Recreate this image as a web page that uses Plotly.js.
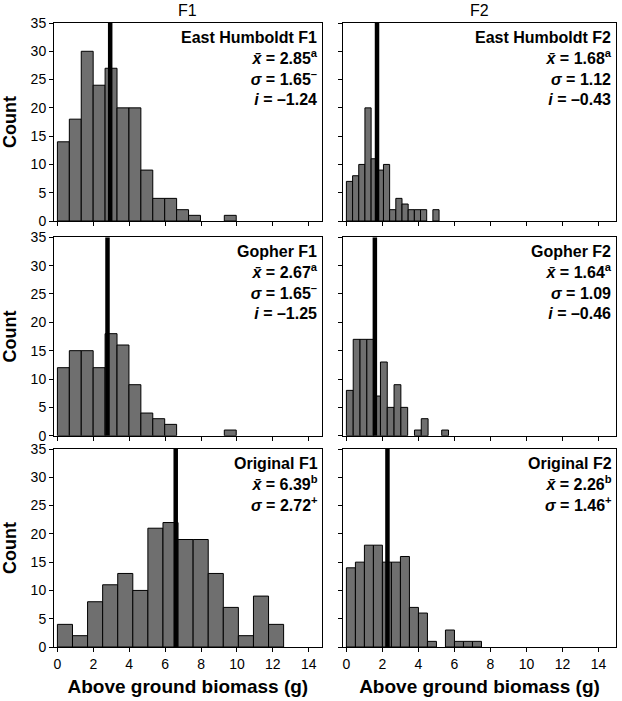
<!DOCTYPE html>
<html>
<head>
<meta charset="utf-8">
<script src="https://cdn.plot.ly/plotly-3.0.1.min.js"></script>
<style>html,body{margin:0;padding:0;background:#fff;}#chart{width:622px;height:701px;}</style>
</head>
<body>
<div id="chart"></div>
<script>
// ---- data ----
const panelNames = ["East Humboldt F1", "East Humboldt F2", "Gopher F1", "Gopher F2", "Original F1", "Original F2"];
const counts_EH_F1 = [14, 18, 30, 24, 27, 20, 20, 9, 4, 4, 2, 1, 0, 0, 1];
const counts_EH_F2 = [7, 8, 10, 20, 11, 9, 10, 2, 4, 3, 2, 2, 2, 0, 2];
const counts_G_F1 = [12, 15, 15, 12, 18, 16, 9, 4, 3, 2, 0, 0, 0, 0, 1];
const counts_G_F2 = [8, 17, 17, 17, 7, 13, 5, 9, 5, 0, 1, 3, 0, 0, 1];
const counts_O_F1 = [4, 2, 8, 11, 13, 10, 21, 22, 19, 19, 13, 7, 2, 9, 4];
const counts_O_F2 = [14, 15, 18, 18, 15, 15, 16, 7, 6, 1, 0, 3, 1, 1, 1];
const binWidths = [0.664, 0.343, 0.664, 0.378, 0.84, 0.5];
const meanLineX = [2.94, 1.70, 2.79, 1.58, 6.59, 2.28];
const meanText = ["2.85", "1.68", "2.67", "1.64", "6.39", "2.26"];
const meanLetter = ["a", "a", "a", "a", "b", "b"];
const sdText = ["1.65", "1.12", "1.65", "1.09", "2.72", "1.46"];
const sdMark = ["\u2013", "", "\u2013", "", "+", "+"];
const iText = ["\u20131.24", "\u20130.43", "\u20131.25", "\u20130.46", null, null];
const columnTitles = ["F1", "F2"];
const xTickVals = [0, 2, 4, 6, 8, 10, 12, 14];
const yTickVals = [0, 5, 10, 15, 20, 25, 30, 35];
const xTitle = "Above ground biomass (g)";
const yTitle = "Count";

const allCounts = [counts_EH_F1, counts_EH_F2, counts_G_F1, counts_G_F2, counts_O_F1, counts_O_F2];

const FONT = "Liberation Sans, Arial, Helvetica, sans-serif";
const xDomains = [[0, 0.4763], [0.5142, 1]];
const yDomains = [[0.6827, 1], [0.3386, 0.6566], [0, 0.3173]];
const xRanges = [[-0.19, 14.72], [-0.19, 14.97]];

const traces = [];
const shapes = [];
const annotations = [];
const layout = {
  width: 622, height: 701,
  margin: {l: 54, r: 6, t: 23, b: 54},
  paper_bgcolor: "#fff", plot_bgcolor: "#fff",
  showlegend: false,
  font: {family: FONT, color: "#000", size: 14},
  bargap: 0
};

for (let p = 0; p < 6; p++) {
  const row = Math.floor(p / 2), col = p % 2;
  const n = p + 1;
  const xa = n === 1 ? "x" : "x" + n;
  const ya = n === 1 ? "y" : "y" + n;
  const w = binWidths[p];
  const counts = allCounts[p];
  const centers = counts.map((_, i) => (i + 0.5) * w);
  traces.push({
    type: "bar", x: centers, y: counts.map(c => (c === 0 ? null : c)), width: w,
    xaxis: xa, yaxis: ya,
    marker: {color: "#6f6f6f", line: {color: "#000", width: 1}},
    hoverinfo: "x+y"
  });
  shapes.push({
    type: "line", xref: xa, yref: ya,
    x0: meanLineX[p], x1: meanLineX[p], y0: 0, y1: 35,
    line: {color: "#000", width: 4.5}, layer: "above"
  });
  const bottom = row === 2;
  const xax = {
    domain: xDomains[col], anchor: ya, range: xRanges[col],
    tickvals: xTickVals, ticks: "outside", ticklen: 4, tickcolor: "#000",
    showticklabels: bottom, showgrid: false, zeroline: false,
    showline: true, mirror: true, linecolor: "#000", linewidth: 1,
    tickfont: {size: 14, family: FONT, color: "#000"}
  };
  if (bottom) xax.title = {text: "<b>" + xTitle + "</b>", font: {size: 19, family: FONT, color: "#000"}, standoff: 8};
  layout["xaxis" + (n === 1 ? "" : n)] = xax;
  const yax = {
    domain: yDomains[row], anchor: xa, range: [0, 35],
    tickvals: yTickVals, ticks: "outside", ticklen: 4, tickcolor: "#000",
    showticklabels: col === 0, showgrid: false, zeroline: false,
    showline: true, mirror: true, linecolor: "#000", linewidth: 1,
    tickfont: {size: 14, family: FONT, color: "#000"}
  };
  if (col === 0) yax.title = {text: "<b>" + yTitle + "</b>", font: {size: 18, family: FONT, color: "#000"}, standoff: 10};
  layout["yaxis" + (n === 1 ? "" : n)] = yax;
  let lines = ["<b>" + panelNames[p] + "</b>",
    "<b><i>x\u0304</i> = " + meanText[p] + "<sup>" + meanLetter[p] + "</sup></b>",
    "<b><i>\u03c3</i> = " + sdText[p] + (sdMark[p] ? "<sup>" + sdMark[p] + "</sup>" : "") + "</b>"];
  if (iText[p] !== null) lines.push("<b><i>i</i> = " + iText[p] + "</b>");
  annotations.push({
    xref: xa + " domain", yref: ya + " domain", x: 1, y: 1,
    xanchor: "right", yanchor: "top", align: "right",
    xshift: -2, yshift: -4, showarrow: false,
    text: lines.join("<br>"),
    font: {size: 16, family: FONT, color: "#000"}
  });
}
columnTitles.forEach((t, c) => {
  annotations.push({
    xref: "paper", yref: "paper",
    x: (xDomains[c][0] + xDomains[c][1]) / 2, y: 1, yshift: 13,
    xanchor: "center", yanchor: "middle", showarrow: false,
    text: t, font: {size: 16, family: FONT, color: "#000"}
  });
});
layout.shapes = shapes;
layout.annotations = annotations;
Plotly.newPlot("chart", traces, layout, {displayModeBar: false, staticPlot: true});
</script>
</body>
</html>
